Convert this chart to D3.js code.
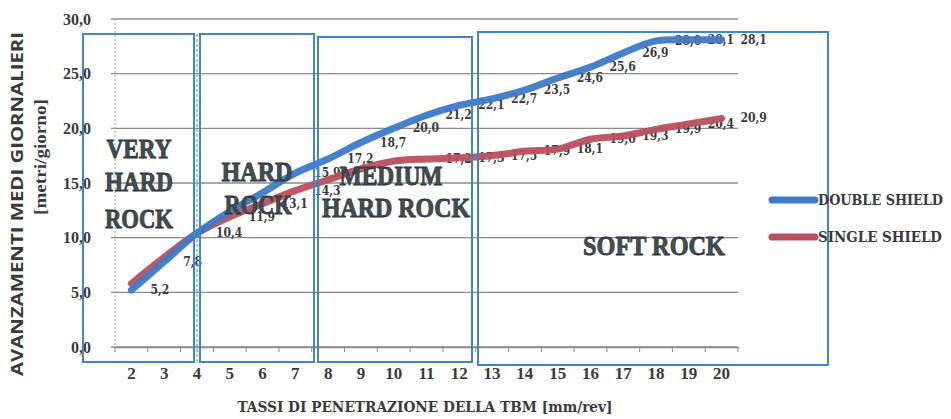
<!DOCTYPE html>
<html>
<head>
<meta charset="utf-8">
<script src="https://cdn.jsdelivr.net/npm/d3@7"></script>
<style>
  html, body { margin: 0; padding: 0; background: #ffffff; }
  svg { display: block; }
</style>
</head>
<body>
<svg id="chart" width="951" height="419"></svg>
<script>
// Penetration rate categories (mm/rev)
const categories = ["2","3","4","5","6","7","8","9","10","11","12","13","14","15","16","17","18","19","20"];
// Average daily advance (m/day)
const doubleShield = [5.2, 7.8, 10.4, 12.4, 14.1, 15.9, 17.2, 18.7, 20.0, 21.2, 22.1, 22.7, 23.5, 24.6, 25.6, 26.9, 28.0, 28.1, 28.1];
const singleShield = [5.8, 8.2, 10.4, 11.9, 13.1, 14.3, 15.3, 16.3, 17.0, 17.2, 17.3, 17.5, 17.9, 18.1, 19.0, 19.3, 19.9, 20.4, 20.9];
// Categories whose points carry a value label
const doubleLabelled = ["2","3","4","7","8","9","10","11","12","13","14","15","16","17","18","19","20"];
const singleLabelled = ["5","6","7","11","12","13","14","15","16","17","18","19","20"];
const yTicks = [0, 5, 10, 15, 20, 25, 30];
// Rock classes
const zoneNames = ["VERY HARD ROCK", "HARD ROCK", "MEDIUM HARD ROCK", "SOFT ROCK"];
const seriesNames = ["DOUBLE SHIELD", "SINGLE SHIELD"];

const fmt = v => d3.format(".1f")(v).replace(".", ",");

const svg = d3.select("#chart");
const W = 951, H = 419;
const m = { left: 115, right: W - 738, top: 19, bottom: H - 347 };

const x = d3.scaleBand().domain(categories).range([m.left, W - m.right]).padding(0);
const y = d3.scaleLinear().domain([0, 30]).range([H - m.bottom, m.top]);
const cx = c => x(c) + x.bandwidth() / 2;

const serif = "'Liberation Serif', 'DejaVu Serif', serif";
const cond = "'DejaVu Serif Condensed', 'Liberation Serif', serif";
const ink = "#3a3a3a";

// Horizontal gridlines
svg.append("g")
  .selectAll("line").data(yTicks).join("line")
  .attr("x1", m.left - 4).attr("x2", W - m.right)
  .attr("y1", d => y(d)).attr("y2", d => y(d))
  .attr("stroke", "#8c8c8c").attr("stroke-width", 1.3);

// Y axis (dotted) and labels
svg.append("line")
  .attr("x1", m.left).attr("x2", m.left)
  .attr("y1", y(30)).attr("y2", y(0) + 5)
  .attr("stroke", "#a0a0a0").attr("stroke-width", 1).attr("stroke-dasharray", "2,2");

const yAxis = d3.axisLeft(y).tickValues(yTicks).tickFormat(fmt).tickSize(0).tickPadding(24);
svg.append("g").attr("transform", `translate(${m.left},0)`).call(yAxis)
  .call(g => g.select(".domain").remove())
  .selectAll("text")
  .attr("font-family", serif).attr("font-weight", "bold").attr("font-size", 16)
  .attr("fill", ink);

// X axis with ticks at category boundaries
const xAxis = d3.axisBottom(x).tickSize(0).tickPadding(20);
const gx = svg.append("g").attr("transform", `translate(0,${y(0)})`).call(xAxis);
gx.select(".domain").attr("stroke", "#8c8c8c").attr("stroke-width", 1.3);
gx.selectAll("text")
  .attr("font-family", serif).attr("font-weight", "bold").attr("font-size", 17)
  .attr("fill", ink);
svg.append("g").selectAll("line")
  .data(d3.range(categories.length + 1)).join("line")
  .attr("x1", i => m.left + i * x.bandwidth()).attr("x2", i => m.left + i * x.bandwidth())
  .attr("y1", y(0)).attr("y2", y(0) + 5)
  .attr("stroke", "#8c8c8c").attr("stroke-width", 1);

// Axis titles
svg.append("text")
  .attr("x", 425).attr("y", 412).attr("text-anchor", "middle")
  .attr("font-family", cond).attr("font-weight", "bold").attr("font-size", 14)
  .attr("fill", ink)
  .attr("textLength", 375).attr("lengthAdjust", "spacingAndGlyphs")
  .text("TASSI DI PENETRAZIONE DELLA TBM [mm/rev]");

svg.append("text")
  .attr("transform", "translate(23,204) rotate(-90)")
  .attr("text-anchor", "middle")
  .attr("font-family", "'Open Sans', 'DejaVu Sans', sans-serif").attr("font-weight", "bold").attr("font-size", 16)
  .attr("fill", ink)
  .attr("textLength", 344).attr("lengthAdjust", "spacingAndGlyphs")
  .text("AVANZAMENTI MEDI GIORNALIERI");
svg.append("text")
  .attr("transform", "translate(46,157) rotate(-90)")
  .attr("text-anchor", "middle")
  .attr("font-family", serif).attr("font-weight", "bold").attr("font-size", 16)
  .attr("fill", ink)
  .attr("textLength", 116).attr("lengthAdjust", "spacingAndGlyphs")
  .text("[metri/giorno]");

// Data labels (drawn beneath the lines)
const colors = ["#3d7ac6", "#b9505f"];
const series = [doubleShield, singleShield];
const labelled = [doubleLabelled, singleLabelled];

series.forEach((vals, si) => {
  svg.append("g").selectAll("text")
    .data(vals.map((v, i) => ({ c: categories[i], v })).filter(d => labelled[si].includes(d.c)))
    .join("text")
    .attr("x", d => cx(d.c) + 19)
    .attr("y", d => y(d.v) + 4)
    .attr("font-family", cond).attr("font-weight", "bold").attr("font-size", 12)
    .attr("fill", ink)
    .text(d => fmt(d.v));
});

// Series lines (smoothed)
const line = d3.line().x((d, i) => cx(categories[i])).y(d => y(d)).curve(d3.curveCatmullRom.alpha(0.5));
[1, 0].forEach(si => {
  svg.append("path")
    .attr("d", line(series[si]))
    .attr("fill", "none")
    .attr("stroke", colors[si]).attr("stroke-width", 7)
    .attr("stroke-linecap", "round").attr("stroke-linejoin", "round")
    .attr("opacity", 0.95);
});

// Rock-class boxes
const zoneBoxes = [
  { x0: 83, x1: 194, y0: 34, y1: 362 },
  { x0: 200, x1: 314, y0: 34, y1: 362 },
  { x0: 318, x1: 472, y0: 37, y1: 362 },
  { x0: 478, x1: 828, y0: 32, y1: 365 }
];
svg.append("g").selectAll("rect").data(zoneBoxes).join("rect")
  .attr("x", d => d.x0).attr("y", d => d.y0)
  .attr("width", d => d.x1 - d.x0).attr("height", d => d.y1 - d.y0)
  .attr("fill", "none").attr("stroke", "#3f86c8").attr("stroke-width", 2);
svg.append("line")
  .attr("x1", 197).attr("x2", 197).attr("y1", 34).attr("y2", 362)
  .attr("stroke", "#3f86c8").attr("stroke-width", 1).attr("stroke-dasharray", "3,2");

// Rock-class names
const zoneText = [
  [{ t: "VERY", x: 139, y: 158, w: 65 }, { t: "HARD", x: 139, y: 191, w: 68 }, { t: "ROCK", x: 139, y: 228, w: 68 }],
  [{ t: "HARD", x: 257, y: 181, w: 71 }, { t: "ROCK", x: 258, y: 214, w: 67 }],
  [{ t: "MEDIUM", x: 391, y: 185, w: 103 }, { t: "HARD ROCK", x: 396, y: 217, w: 148 }],
  [{ t: "SOFT ROCK", x: 654, y: 255, w: 142 }]
];
zoneText.forEach((lines, zi) => {
  svg.append("g").attr("class", "zone").attr("data-name", zoneNames[zi])
    .selectAll("text").data(lines).join("text")
    .attr("x", d => d.x).attr("y", d => d.y).attr("text-anchor", "middle")
    .attr("font-family", serif).attr("font-weight", "bold").attr("font-size", 27)
    .attr("fill", "#434e54").attr("stroke", "#2c3438").attr("stroke-width", 0.8)
    .attr("textLength", d => d.w).attr("lengthAdjust", "spacingAndGlyphs")
    .text(d => d.t);
});

// Legend
const legend = svg.append("g");
seriesNames.forEach((name, i) => {
  const ly = 200 + i * 37;
  legend.append("line")
    .attr("x1", 772).attr("x2", 815).attr("y1", ly).attr("y2", ly)
    .attr("stroke", colors[i]).attr("stroke-width", 7).attr("stroke-linecap", "round");
  legend.append("text")
    .attr("x", 818).attr("y", ly + 5)
    .attr("font-family", cond).attr("font-weight", "bold").attr("font-size", 14)
    .attr("fill", ink)
    .attr("textLength", i === 0 ? 125 : 124).attr("lengthAdjust", "spacingAndGlyphs")
    .text(name);
});
</script>
</body>
</html>
